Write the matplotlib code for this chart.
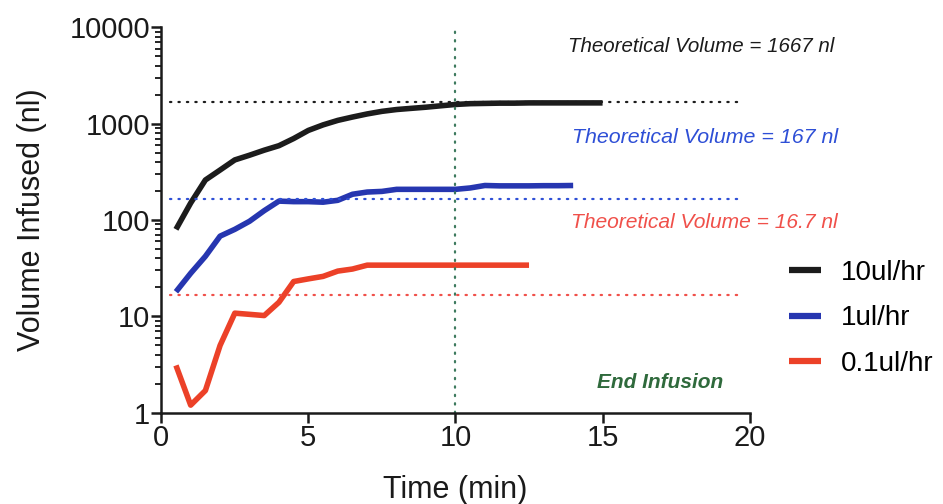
import matplotlib
matplotlib.use("Agg")
import matplotlib.pyplot as plt
from matplotlib.ticker import FixedLocator, LogLocator, NullFormatter

plt.rcParams['font.family'] = ['Liberation Sans', 'DejaVu Sans']

# data (time in min, volume in nl)
t_10 = [0.5, 1, 1.5, 2, 2.5, 3, 3.5, 4, 4.5, 5, 5.5, 6, 6.5, 7, 7.5, 8, 8.5, 9,
        9.5, 10, 10.5, 11, 11.5, 12, 12.5, 13, 13.5, 14, 14.5, 15]
v_10 = [80, 150, 260, 330, 420, 470, 530, 590, 700, 850, 970, 1080, 1170, 1260,
        1340, 1400, 1440, 1480, 1530, 1580, 1610, 1620, 1630, 1630, 1640, 1640,
        1640, 1640, 1640, 1640]

t_1 = [0.5, 1, 1.5, 2, 2.5, 3, 3.5, 4, 4.5, 5, 5.5, 6, 6.5, 7, 7.5, 8, 8.5, 9,
       9.5, 10, 10.5, 11, 11.5, 12, 12.5, 13, 13.5, 14]
v_1 = [18, 28, 42, 68, 80, 97, 125, 157, 155, 155, 153, 160, 185, 195, 198,
       208, 208, 208, 208, 208, 215, 228, 226, 226, 226, 227, 227, 228]

t_01 = [0.5, 1, 1.5, 2, 2.5, 3, 3.5, 4, 4.5, 5, 5.5, 6, 6.5, 7, 7.5, 8, 8.5, 9,
        9.5, 10, 10.5, 11, 11.5, 12, 12.5]
v_01 = [3.1, 1.2, 1.7, 5.0, 10.8, 10.5, 10.2, 14, 23, 24.5, 26, 29.5, 31, 34,
        34, 34, 34, 34, 34, 34, 34, 34, 34, 34, 34]

labels = ["10ul/hr", "1ul/hr", "0.1ul/hr"]
theoretical = [1667, 167, 16.7]
theo_text = ["Theoretical Volume = 1667 nl", "Theoretical Volume = 167 nl",
             "Theoretical Volume = 16.7 nl"]
end_time = 10

colors = ["#1c1c1c", "#2636b0", "#ec4128"]
theo_colors = ["#1c1c1c", "#2e4fd6", "#f0504a"]

fig = plt.figure(figsize=(9.43, 5.04), dpi=100)
ax = fig.add_axes([0.171, 0.181, 0.624, 0.765])

for t, v, c, lab in zip([t_10, t_1, t_01], [v_10, v_1, v_01], colors, labels):
    ax.plot(t, v, color=c, lw=4.0, label=lab, solid_capstyle="butt")

# theoretical volumes
for val, c in zip(theoretical, theo_colors):
    ax.plot([0.3, 19.8], [val, val], color=c, lw=1.6, ls=(0, (0.6, 3.2)),
            dash_capstyle="round")

# end of infusion
ax.plot([end_time, end_time], [1, 10000], color="#3d7a5e", lw=1.6,
        ls=(0, (0.6, 3.2)), dash_capstyle="round")

ax.text(18.35, 6300, theo_text[0], color=theo_colors[0], fontsize=14.8,
        style="italic", ha="center", va="center", clip_on=False)
ax.text(18.5, 720, theo_text[1], color=theo_colors[1], fontsize=15.4,
        style="italic", ha="center", va="center", clip_on=False)
ax.text(18.45, 95, theo_text[2], color=theo_colors[2], fontsize=15.1,
        style="italic", ha="center", va="center", clip_on=False)
ax.text(16.95, 2.05, "End Infusion", color="#2f6a3c", fontsize=15,
        fontweight="bold", style="italic", ha="center", va="center")

ax.set_yscale("log")
ax.set_xlim(0, 20)
ax.set_ylim(1, 10000)
ax.set_xticks([0, 5, 10, 15, 20])
ax.yaxis.set_major_locator(FixedLocator([1, 10, 100, 1000, 10000]))
ax.set_yticklabels(["1", "10", "100", "1000", "10000"])
ax.yaxis.set_minor_locator(LogLocator(base=10, subs=range(2, 10)))
ax.yaxis.set_minor_formatter(NullFormatter())

for s in ["top", "right"]:
    ax.spines[s].set_visible(False)
for s in ["left", "bottom"]:
    ax.spines[s].set_linewidth(1.8)
    ax.spines[s].set_color("#1a1a1a")

ax.tick_params(axis="both", which="major", direction="out", length=7,
               width=1.8, labelsize=21, colors="#1a1a1a", pad=1)
ax.tick_params(axis="y", which="minor", direction="out", length=4, width=1.2)

ax.set_xlabel("Time (min)", fontsize=22, color="#1a1a1a", labelpad=17)
ax.set_ylabel("Volume Infused (nl)", fontsize=22, color="#1a1a1a", labelpad=16)

leg = ax.legend(loc="center left", bbox_to_anchor=(1.025, 0.245), frameon=False,
                fontsize=20, handlelength=1.15, handletextpad=0.7,
                labelspacing=0.7)
for line in leg.get_lines():
    line.set_linewidth(4.5)

fig.savefig("out.png", dpi=100)
